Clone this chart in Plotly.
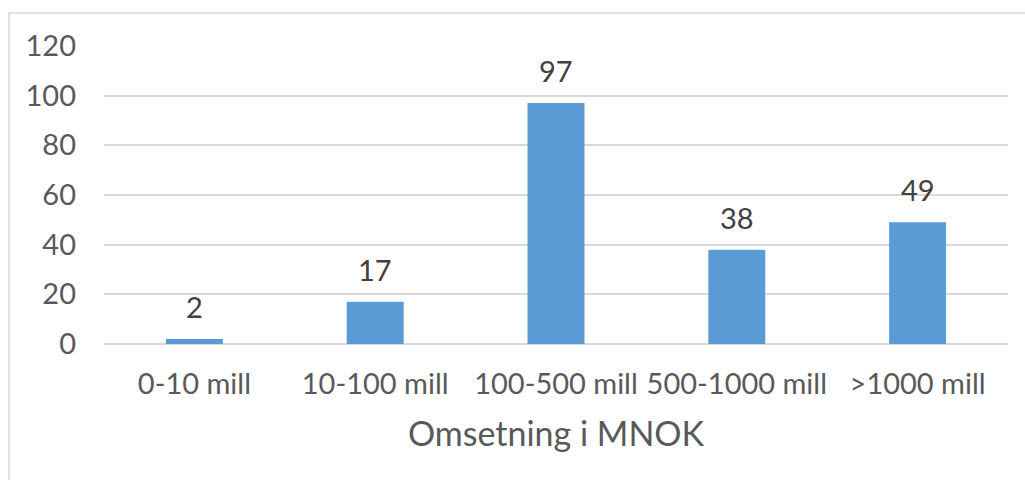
import plotly.graph_objects as go

categories = ["0-10 mill", "10-100 mill", "100-500 mill", "500-1000 mill", ">1000 mill"]
values = [2, 17, 97, 38, 49]
y_ticks = [0, 20, 40, 60, 80, 100, 120]
x_title = "Omsetning i MNOK"

FONT = "Lato"
fig = go.Figure()
fig.add_trace(go.Bar(
    x=categories, y=values,
    marker=dict(color="#5B9BD5", line=dict(width=0)),
    hoverinfo="x+y",
))
for c, v in zip(categories, values):
    fig.add_annotation(x=c, y=v, text=str(v), showarrow=False,
                       yanchor="bottom", yshift=13,
                       font=dict(family=FONT, size=29, color="#404040"))

fig.update_layout(
    width=1025, height=480,
    margin=dict(l=104, r=17, t=46, b=136),
    paper_bgcolor="white", plot_bgcolor="white",
    bargap=0.685,
    showlegend=False,
    font=dict(family=FONT, size=29, color="#595959"),
    xaxis=dict(
        showgrid=False, showline=False, ticks="",
        tickfont=dict(family=FONT, size=29, color="#595959"),
        ticklabelstandoff=20,
        title=dict(text=x_title, font=dict(family=FONT, size=34, color="#595959"), standoff=23),
    ),
    yaxis=dict(
        range=[0, 120], tickvals=y_ticks, showgrid=True,
        gridcolor="#D9D9D9", gridwidth=1.5,
        zeroline=True, zerolinecolor="#D9D9D9", zerolinewidth=1.5,
        showline=False, ticks="",
        tickfont=dict(family=FONT, size=29, color="#595959"),
        ticklabelstandoff=27,
    ),
    shapes=[dict(type="rect", xref="paper", yref="paper",
                 x0=-0.1051, x1=1.05, y0=-0.6, y1=1.1107,
                 line=dict(color="#D9D9D9", width=1.5), fillcolor="rgba(0,0,0,0)",
                 layer="below")],
)
fig.write_html("out.html")
